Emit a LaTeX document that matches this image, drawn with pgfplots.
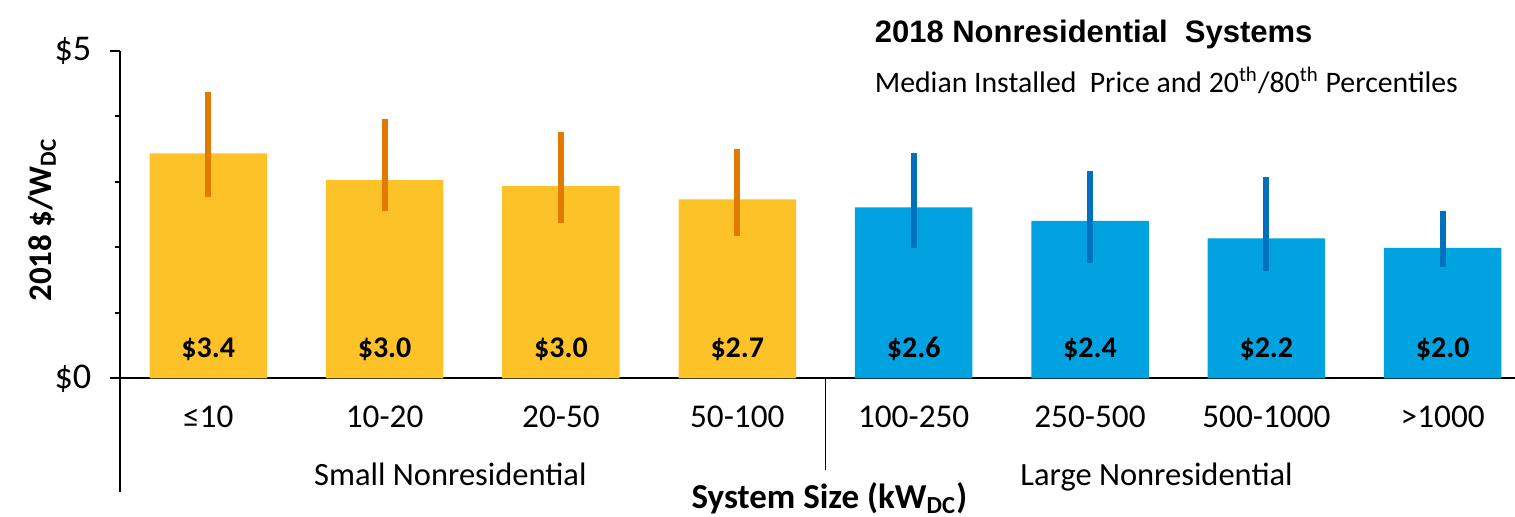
\documentclass[border=0pt]{standalone}
\usepackage{fontspec}
\setmainfont{Carlito}
\newfontfamily\arialfont{Liberation Sans}
\usepackage{pgfplots}
\pgfplotsset{compat=1.18}
\usepackage{pgfplotstable}
\definecolor{barY}{RGB}{253,194,40}
\definecolor{errY}{RGB}{224,123,0}
\definecolor{barB}{RGB}{0,163,224}
\definecolor{errB}{RGB}{0,113,188}

\pgfplotstableread{
x y lo hi
0 3.435 2.762 4.374
1 3.027 2.554 3.959
2 2.936 2.376 3.756
3 2.733 2.173 3.496
}\smalltab
\pgfplotstableread{
x y lo hi
4 2.611 1.994 3.435
5 2.406 1.765 3.169
6 2.137 1.643 3.078
7 1.994 1.704 2.554
}\largetab

\begin{document}
\begin{tikzpicture}
\begin{axis}[
  scale only axis, width=558pt, height=131.04pt,
  xmin=-0.5, xmax=7.41, ymin=0, ymax=5,
  clip=false,
  axis x line=bottom, axis y line=left,
  axis line style={-, black, line width=0.8pt},
  xtick={0,...,7},
  xticklabels={≤10,10-20,20-50,50-100,100-250,250-500,500-1000,>1000},
  major x tick style={draw=none},
  xticklabel style={anchor=base, yshift=-15.8pt, font=\fontsize{13.3}{15}\selectfont},
  ytick={0,5}, yticklabels={\$0,\$5},
  minor ytick={1,2,3,4},
  tick align=outside,
  major tick length=4pt, minor tick length=2.2pt,
  every tick/.style={black, line width=0.8pt},
  yticklabel style={font=\fontsize{14.5}{16}\selectfont, xshift=-4pt},
]
\addplot[ybar, bar width=47pt, bar shift=0pt, fill=barY, draw=none,
  error bars/.cd, y dir=both, y explicit, error mark=none,
  error bar style={line width=2.4pt, errY}]
  table[x=x, y=y, y error plus expr=\thisrow{hi}-\thisrow{y}, y error minus expr=\thisrow{y}-\thisrow{lo}] {\smalltab};
\addplot[ybar, bar width=47pt, bar shift=0pt, fill=barB, draw=none,
  error bars/.cd, y dir=both, y explicit, error mark=none,
  error bar style={line width=2.3pt, errB}]
  table[x=x, y=y, y error plus expr=\thisrow{hi}-\thisrow{y}, y error minus expr=\thisrow{y}-\thisrow{lo}] {\largetab};

\draw[line width=0.8pt] (axis cs:-0.5,0) -- (axis cs:-0.5,-1.74);
\draw[line width=0.5pt] (axis cs:3.5,0) -- (axis cs:3.5,-1.40);

\begin{scope}[every node/.style={font=\bfseries\fontsize{12}{14}\selectfont, anchor=base}]
\node at (axis cs:0,0.325) {\$3.4};
\node at (axis cs:1,0.325) {\$3.0};
\node at (axis cs:2,0.325) {\$3.0};
\node at (axis cs:3,0.325) {\$2.7};
\node at (axis cs:4,0.325) {\$2.6};
\node at (axis cs:5,0.325) {\$2.4};
\node at (axis cs:6,0.325) {\$2.2};
\node at (axis cs:7,0.325) {\$2.0};
\end{scope}

\node[anchor=base, font=\fontsize{13}{15}\selectfont] at (axis cs:1.373,-1.629) {Small Nonresidential};
\node[anchor=base, font=\fontsize{13}{15}\selectfont] at (axis cs:5.377,-1.629) {Large Nonresidential};
\node[anchor=base, font=\bfseries\fontsize{14}{16}\selectfont] at (axis cs:3.522,-1.98) {System Size (kW\textsubscript{DC})};
\node[rotate=90, anchor=center, font=\bfseries\fontsize{13.2}{16}\selectfont] at (axis cs:-0.943,2.42) {2018 \$/W\textsubscript{DC}};

\node[anchor=base west, inner sep=0pt, font=\arialfont\bfseries\fontsize{12.4}{14}\selectfont] at (axis cs:3.777,5.134) {2018 Nonresidential\ \ Systems};
\node[anchor=base west, inner sep=0pt, font=\fontsize{11.9}{14}\selectfont] at (axis cs:3.777,4.371) {Median Installed\ \ Price and 20\textsuperscript{th}/80\textsuperscript{th} Percentiles};

\coordinate (BL) at (axis cs:-1.181,-2.102);
\coordinate (TR) at (axis cs:7.41,5.776);
\end{axis}
\pgfresetboundingbox
\useasboundingbox (BL) rectangle (TR);
\end{tikzpicture}
\end{document}
